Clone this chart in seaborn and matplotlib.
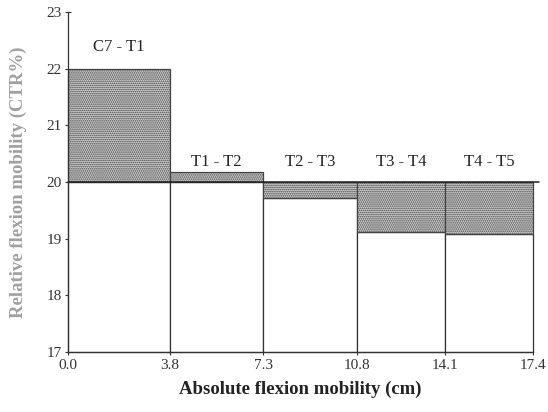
import numpy as np
import matplotlib
matplotlib.use("Agg")
import matplotlib.pyplot as plt
import seaborn as sns

# segment boundaries (cm) and relative mobility values
segments = ["C7 - T1", "T1 - T2", "T2 - T3", "T3 - T4", "T4 - T5"]
edges = [0.0, 3.8, 7.3, 10.8, 14.1, 17.4]
values = [22.0, 20.17, 19.72, 19.12, 19.08]
ref_level = 20.0
y_ticks = [17, 18, 19, 20, 21, 22, 23]

sns.set_style("ticks")
plt.rcParams["font.family"] = ["Liberation Serif", "DejaVu Serif"]
plt.rcParams["hatch.color"] = "#666666"
plt.rcParams["hatch.linewidth"] = 0.8

fig, ax = plt.subplots(figsize=(5.48, 4.12), dpi=100)
fig.subplots_adjust(left=0.124, right=0.973, bottom=0.146, top=0.971)

left = np.array(edges[:-1])
width = np.diff(edges)
vals = np.array(values)

# white lower part of every bar
low_top = np.minimum(vals, ref_level)
ax.bar(left, low_top - 17, bottom=17, width=width, align="edge",
       facecolor="white", edgecolor="#333333", linewidth=0.9, clip_on=False)

# stippled difference to the 20 % line
st_bot = np.minimum(vals, ref_level)
st_top = np.maximum(vals, ref_level)
ax.bar(left, st_top - st_bot, bottom=st_bot, width=width, align="edge",
       facecolor="#cfcfcf", edgecolor="#444444", hatch="........", linewidth=0.9,
       clip_on=False)

ax.plot([edges[0], edges[-1] + 0.2], [ref_level, ref_level], color="#222222",
        lw=1.1, clip_on=False)

for i, name in enumerate(segments):
    xc = left[i] + width[i] / 2
    yl = 22.38 if i == 0 else 20.35
    ax.text(xc, yl, name, ha="center", va="center", fontsize=12, color="#222222")

ax.set_xlim(0, 17.4)
ax.set_ylim(17, 23)
ax.set_xticks(edges)
ax.set_xticklabels([f"{e:.1f}" for e in edges], fontsize=11, color="#333333")
ax.set_yticks(y_ticks)
ax.set_yticklabels([str(t) for t in y_ticks], fontsize=11, color="#333333")
ax.tick_params(direction="inout", length=5, width=0.8, pad=2, colors="#333333")
ax.tick_params(axis="x", pad=3)
ax.set_xlabel("Absolute flexion mobility (cm)", fontsize=13.5, fontweight="bold",
              color="#222222", labelpad=6)
ax.set_ylabel("Relative flexion mobility (CTR%)", fontsize=13.5, fontweight="bold",
              color="#a0a0a0", labelpad=14)
for s in ["left", "bottom"]:
    ax.spines[s].set_linewidth(0.9)
    ax.spines[s].set_color("#333333")
sns.despine(ax=ax)

fig.savefig("out.png", dpi=100)
